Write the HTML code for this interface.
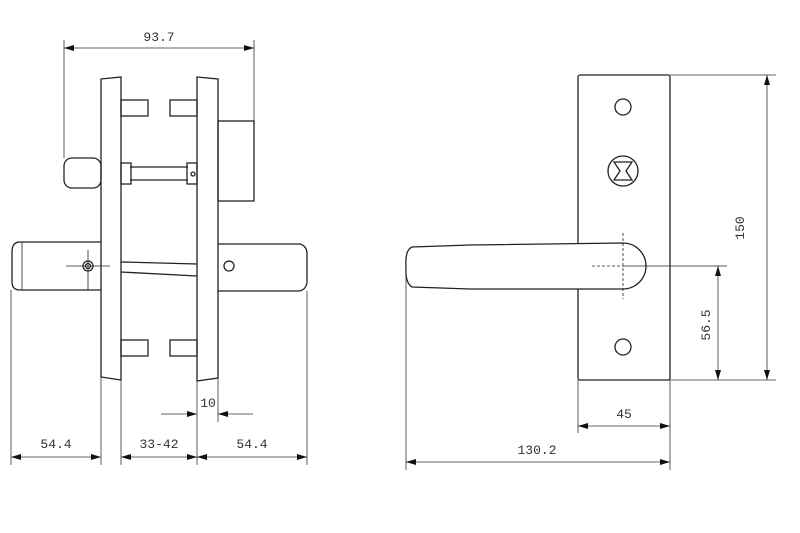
<!DOCTYPE html>
<html><head><style>body{margin:0;background:#fff}svg{display:block}text{font-family:"Liberation Mono",monospace;font-size:13px;fill:#333}</style></head><body>
<svg width="800" height="533" viewBox="0 0 800 533" xmlns="http://www.w3.org/2000/svg">
<defs><marker id="a" viewBox="0 0 10 6" refX="10" refY="3" markerWidth="10" markerHeight="6" orient="auto-start-reverse" markerUnits="userSpaceOnUse"><path d="M0,0L10,3L0,6z" fill="#111"/></marker></defs>
<g stroke="#222" stroke-width="1.3" fill="none">
<!-- left view -->
<path d="M101,79 L121,77 L121,380 L101,377 Z"/>
<path d="M197,77 L218,79 L218,378 L197,381 Z"/>
<rect x="121" y="100" width="27" height="16"/><rect x="170" y="100" width="27" height="16"/>
<rect x="121" y="340" width="27" height="16"/><rect x="170" y="340" width="27" height="16"/>
<rect x="218" y="121" width="36" height="80"/>
<rect x="64" y="158" width="37" height="30" rx="8"/>
<line x1="130" y1="167" x2="188" y2="167"/><line x1="130" y1="180" x2="188" y2="180"/>
<rect x="121" y="163" width="10" height="21"/><rect x="187" y="163" width="10" height="21"/>
<circle cx="193" cy="174" r="2"/>
<path d="M101,242 L20,242 Q12,242 12,252 L12,282 Q12,290 20,290 L101,290"/>
<line x1="22" y1="242" x2="22" y2="290" stroke-width="0.8"/>
<path d="M218,244 L300,244 Q307,246 307,254 L307,283 Q305,291 298,291 L218,291"/>
<circle cx="88" cy="266" r="5"/><circle cx="88" cy="266" r="2.5"/>
<line x1="66" y1="266" x2="110" y2="266" stroke-width="0.8"/><line x1="88" y1="250" x2="88" y2="290" stroke-width="0.8"/>
<circle cx="229" cy="266" r="5"/>
<line x1="121" y1="262" x2="197" y2="264"/><line x1="121" y1="272" x2="197" y2="276"/>
<!-- right view -->
<rect x="578" y="75" width="92" height="305" rx="2"/>
<circle cx="623" cy="107" r="8"/><circle cx="623" cy="347" r="8"/>
<circle cx="623" cy="171" r="15"/>
<path d="M614,162 L632,162 L626,171 L632,180 L614,180 L620,171 Z"/>
<path d="M623,243 L470,245 L412,247 Q405,250 406,266 Q405,283 412,287 L470,289 L623,289 A23,23 0 0 0 623,243 Z" fill="#fff"/>
<line x1="623" y1="233" x2="623" y2="299" stroke-dasharray="3,2" stroke-width="0.8"/>
<line x1="592" y1="266" x2="623" y2="266" stroke-dasharray="3,2" stroke-width="0.8"/>
<line x1="623" y1="266" x2="727" y2="266" stroke-width="0.8"/>
</g>
<g stroke="#333" stroke-width="0.8" fill="none">
<line x1="64" y1="40" x2="64" y2="158"/><line x1="254" y1="40" x2="254" y2="121"/>
<line x1="64" y1="48" x2="254" y2="48" marker-start="url(#a)" marker-end="url(#a)"/>
<line x1="11" y1="290" x2="11" y2="465"/><line x1="101" y1="377" x2="101" y2="465"/><line x1="121" y1="380" x2="121" y2="465"/><line x1="197" y1="381" x2="197" y2="465"/><line x1="307" y1="291" x2="307" y2="465"/><line x1="218" y1="378" x2="218" y2="422"/>
<line x1="11" y1="457" x2="101" y2="457" marker-start="url(#a)" marker-end="url(#a)"/>
<line x1="121" y1="457" x2="197" y2="457" marker-start="url(#a)" marker-end="url(#a)"/>
<line x1="197" y1="457" x2="307" y2="457" marker-start="url(#a)" marker-end="url(#a)"/>
<line x1="161" y1="414" x2="197" y2="414" marker-end="url(#a)"/><line x1="253" y1="414" x2="218" y2="414" marker-end="url(#a)"/>
<line x1="670" y1="75" x2="776" y2="75"/><line x1="670" y1="380" x2="776" y2="380"/>
<line x1="767" y1="75" x2="767" y2="380" marker-start="url(#a)" marker-end="url(#a)"/>
<line x1="718" y1="266" x2="718" y2="380" marker-start="url(#a)" marker-end="url(#a)"/>
<line x1="578" y1="380" x2="578" y2="433"/><line x1="670" y1="380" x2="670" y2="470"/><line x1="406" y1="270" x2="406" y2="470"/>
<line x1="578" y1="426" x2="670" y2="426" marker-start="url(#a)" marker-end="url(#a)"/>
<line x1="406" y1="462" x2="670" y2="462" marker-start="url(#a)" marker-end="url(#a)"/>
</g>
<text x="159" y="41" text-anchor="middle">93.7</text>
<text x="56" y="448" text-anchor="middle">54.4</text>
<text x="159" y="448" text-anchor="middle">33-42</text>
<text x="252" y="448" text-anchor="middle">54.4</text>
<text x="208" y="407" text-anchor="middle">10</text>
<text x="624" y="418" text-anchor="middle">45</text>
<text x="537" y="454" text-anchor="middle">130.2</text>
<text transform="translate(744,228) rotate(-90)" text-anchor="middle">150</text>
<text transform="translate(710,325) rotate(-90)" text-anchor="middle">56.5</text>
</svg>
</body></html>
